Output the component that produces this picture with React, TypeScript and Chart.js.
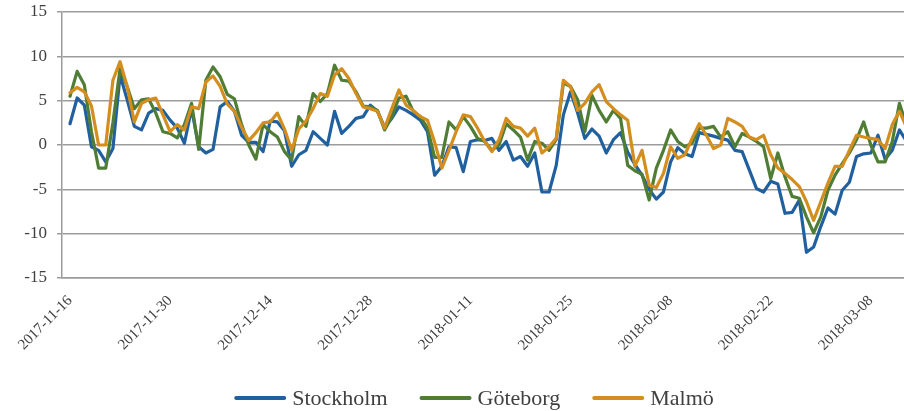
import React, { useEffect, useRef } from 'react';
import { Chart, registerables } from 'chart.js';

Chart.register(...registerables);

// Day index 0 = 2017-11-16; one point per day
const tickLabels = [
  '2017-11-16', '2017-11-30', '2017-12-14', '2017-12-28', '2018-01-11',
  '2018-01-25', '2018-02-08', '2018-02-22', '2018-03-08',
];
const tickStepDays = 14;

const seriesNames = ['Stockholm', 'Göteborg', 'Malmö'];
const seriesColors = ['#21609f', '#4f7d35', '#d38e1f'];

const stockholm = [
  2.4, 5.3, 4.5, -0.2, -0.6, -1.9, -0.4, 7.9, 5.1, 2.1,
  1.7, 3.6, 4.1, 3.9, 2.8, 1.9, 0.2, 4.1, -0.2, -0.9,
  -0.5, 4.3, 4.9, 3.8, 1.1, 0.3, 0.3, -0.75, 2.7, 2.6,
  1.6, -2.4, -1.1, -0.6, 1.5, 0.75, 0, 3.8, 1.3, 2.1,
  3.0, 3.2, 4.5, 3.8, 2.0, 3.0, 4.3, 3.9, 3.4, 2.8,
  1.5, -3.4, -2.4, -0.2, -0.3, -3.0, 0.4, 0.6, 0.5, 0.75,
  -0.6, 0.4, -1.7, -1.3, -2.4, -0.9, -5.3, -5.3, -2.3, 3.4,
  6.0, 3.6, 0.75, 1.8, 1.0, -0.9, 0.6, 1.4, -0.8, -2.2,
  -3.4, -5.0, -6.1, -5.3, -1.9, -0.3, -1.0, -1.3, 1.4, 1.2,
  1.0, 0.75, 0.55, -0.6, -0.75, -2.8, -4.9, -5.3, -4.1, -4.4,
  -7.7, -7.6, -6.2, -12.1, -11.5, -9.2, -7.1, -7.8, -5.1, -4.2,
  -1.3, -1.0, -0.9, 1.1, -1.6, -0.6, 1.7, 0.4,
];

const goteborg = [
  5.5, 8.3, 6.8, 1.5, -2.6, -2.6, 2.5, 8.6, 6.6, 4.1,
  5.1, 5.2, 3.6, 1.5, 1.3, 0.8, 2.3, 4.7, -0.5, 7.3,
  8.8, 7.7, 5.7, 5.2, 2.3, 0.0, -1.6, 2.3, 1.5, 0.9,
  -0.75, -1.7, 3.2, 2.1, 5.8, 4.9, 5.8, 9.0, 7.3, 7.2,
  6.0, 4.4, 4.3, 3.9, 1.7, 3.2, 5.3, 5.5, 3.8, 3.2,
  1.9, -1.4, -1.4, 2.6, 1.7, 3.2, 2.1, 0.75, 0.4, -0.6,
  0.0, 2.4, 1.7, 0.9, -1.7, 0.4, 0.2, -0.6, 0.6, 7.0,
  6.6, 5.1, 1.5, 5.6, 3.9, 2.6, 3.9, 3.0, -2.3, -2.9,
  -3.3, -6.2, -2.6, -0.6, 1.7, 0.4, -0.2, 0.2, 1.9, 1.9,
  2.1, 0.9, 1.5, -0.2, 1.3, 0.9, 0.4, -0.2, -3.8, -0.9,
  -3.6, -5.8, -6.0, -8.1, -9.9, -8.1, -5.1, -3.4, -2.1, -0.9,
  0.6, 2.6, 0.0, -1.9, -1.9, 0.4, 4.7, 2.2,
];

const malmo = [
  5.9, 6.5, 6.0, 4.4, 0.0, 0.0, 7.3, 9.4, 6.6, 2.6,
  4.7, 5.1, 5.3, 3.4, 1.5, 2.3, 1.7, 4.3, 4.1, 7.1,
  7.8, 6.6, 4.6, 3.8, 2.0, 0.5, 1.4, 2.5, 2.6, 3.6,
  1.8, -0.6, 1.8, 2.7, 4.1, 5.8, 5.5, 7.9, 8.6, 7.5,
  5.8, 4.3, 4.1, 3.8, 1.9, 4.1, 6.2, 4.5, 3.9, 3.2,
  2.8, 0.3, -2.6, -0.6, 1.5, 3.4, 3.2, 1.9, 0.4, -0.75,
  0.6, 3.0, 2.1, 1.9, 1.0, 1.9, -0.9, -0.2, 0.75, 7.3,
  6.6, 3.9, 4.7, 6.0, 6.8, 4.9, 4.1, 3.4, 2.8, -2.4,
  -0.6, -4.5, -4.8, -3.2, -0.2, -1.5, -1.1, 0.75, 2.4, 1.1,
  -0.4, 0.0, 3.0, 2.6, 2.1, 0.9, 0.6, 1.1, -1.1, -2.6,
  -3.2, -3.9, -4.7, -6.4, -8.5, -6.4, -4.3, -2.4, -2.4, -0.6,
  1.1, 0.9, 0.75, 0.6, -0.4, 2.3, 3.8, 2.0,
];

const yMin = -15;
const yMax = 15;
const yStep = 5;

const FONT = '"Liberation Serif", "Times New Roman", serif';
const TEXT_COLOR = '#404040';
const GRID_COLOR = '#9c9c9c';

const W = 904;
const H = 411;

const legendPlugin = {
  id: 'bottomLegend',
  afterDraw(chart: any) {
    const ctx = chart.ctx;
    ctx.save();
    ctx.font = `22px ${FONT}`;
    const items = chart.data.datasets.map((ds: any) => ({
      label: ds.label,
      color: ds.borderColor,
      w: ctx.measureText(ds.label).width,
    }));
    const lineLen = 52;
    const gap = 6;
    const itemGap = 32;
    const total =
      items.reduce((s: number, it: any) => s + lineLen + gap + it.w, 0) +
      itemGap * (items.length - 1);
    let x = 474 - total / 2;
    const yLine = 398;
    const yBase = 405;
    for (const it of items) {
      ctx.beginPath();
      ctx.strokeStyle = it.color;
      ctx.lineWidth = 4;
      ctx.lineCap = 'round';
      ctx.moveTo(x + 2, yLine);
      ctx.lineTo(x + lineLen - 2, yLine);
      ctx.stroke();
      ctx.fillStyle = TEXT_COLOR;
      ctx.textBaseline = 'alphabetic';
      ctx.textAlign = 'left';
      ctx.fillText(it.label, x + lineLen + gap, yBase);
      x += lineLen + gap + it.w + itemGap;
    }
    ctx.restore();
  },
};

export default function App() {
  const canvasRef = useRef<HTMLCanvasElement | null>(null);

  useEffect(() => {
    if (!canvasRef.current) return;
    const series = [stockholm, goteborg, malmo];
    const chart = new Chart(canvasRef.current, {
      type: 'line',
      data: {
        datasets: series.map((values, k) => ({
          label: seriesNames[k],
          data: values.map((v, i) => ({ x: i, y: v })),
          borderColor: seriesColors[k],
          backgroundColor: seriesColors[k],
          borderWidth: 3.2,
          pointRadius: 0,
          tension: 0,
          borderJoinStyle: 'round' as const,
          borderCapStyle: 'round' as const,
          order: 2 - k,
        })),
      },
      options: {
        animation: false,
        responsive: false,
        devicePixelRatio: 1,
        layout: { padding: { top: 12, right: 0, bottom: 0, left: 0 } },
        plugins: {
          legend: { display: false },
          tooltip: { enabled: false },
        },
        scales: {
          x: {
            type: 'linear',
            min: -1.12,
            max: 116.64,
            grid: { display: false },
            border: { display: true, color: GRID_COLOR, width: 1.5 },
            ticks: {
              autoSkip: false,
              minRotation: 45,
              maxRotation: 45,
              padding: 6,
              color: TEXT_COLOR,
              font: { family: FONT, size: 15 },
              callback: (value: any) => tickLabels[Math.round(Number(value) / tickStepDays)] ?? '',
            },
            afterBuildTicks: (scale: any) => {
              scale.ticks = tickLabels.map((_, k) => ({ value: k * tickStepDays }));
            },
            afterFit: (scale: any) => {
              scale.height = 133;
            },
          },
          y: {
            min: yMin,
            max: yMax,
            grid: {
              color: GRID_COLOR,
              lineWidth: 1.5,
              drawTicks: true,
              tickLength: 5,
            },
            border: { display: true, color: GRID_COLOR, width: 1.5 },
            ticks: {
              stepSize: yStep,
              padding: 10,
              color: TEXT_COLOR,
              font: { family: FONT, size: 17 },
            },
            afterFit: (scale: any) => {
              scale.width = 62;
              scale.paddingTop = 0;
              scale.paddingBottom = 0;
            },
          },
        },
      },
      plugins: [legendPlugin],
    });
    return () => chart.destroy();
  }, []);

  return (
    <div style={{ position: 'fixed', left: 0, top: 0, width: W, height: H, background: '#fff' }}>
      <canvas ref={canvasRef} width={W} height={H} style={{ display: 'block', width: W, height: H }} />
    </div>
  );
}
